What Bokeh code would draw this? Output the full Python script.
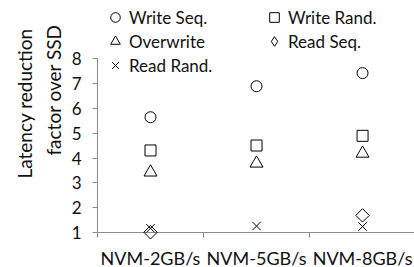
import math
from bokeh.plotting import figure
from bokeh.models import Range1d, FixedTicker, Legend, LegendItem, Title
from bokeh.embed import file_html
from bokeh.resources import INLINE

categories = ["NVM-2GB/s", "NVM-5GB/s", "NVM-8GB/s"]
write_seq = [5.65, 6.90, 7.43]
write_rand = [4.31, 4.51, 4.90]
overwrite = [3.43, 3.79, 4.19]
read_seq = [1.01, float("nan"), 1.69]
read_rand = [1.17, 1.26, 1.24]
y_ticks = [1, 2, 3, 4, 5, 6, 7, 8]
y_title_1 = "Latency reduction"
y_title_2 = "factor over SSD"

FONT = "Lato"
AX = "#8c8c8c"
TXT = "#111111"
xs = list(range(len(categories)))

p = figure(frame_width=317, frame_height=232, output_backend="svg", toolbar_location=None,
           x_range=Range1d(-0.5, 2.49), y_range=Range1d(1, 10.36),
           min_border_left=97, min_border_right=0, min_border_top=0, min_border_bottom=35)
p.outline_line_color = None
p.xgrid.visible = False
p.ygrid.visible = False
p.background_fill_color = None
p.border_fill_color = None

# y axis
ya = p.yaxis[0]
ya.ticker = FixedTicker(ticks=y_ticks, minor_ticks=[])
ya.bounds = (1, 8)
ya.axis_line_color = AX
ya.major_tick_line_color = AX
ya.major_tick_out = 5
ya.major_tick_in = 0
ya.minor_tick_line_color = None
ya.major_label_standoff = 11
ya.major_label_text_font = FONT
ya.major_label_text_font_size = "17px"
ya.major_label_text_color = TXT

# x axis (ticks between categories)
xa = p.xaxis[0]
xa.ticker = FixedTicker(ticks=xs, minor_ticks=[-0.5, 0.5, 1.5, 2.5])
xa.major_label_overrides = {i: c for i, c in zip(xs, categories)}
xa.axis_line_color = AX
xa.major_tick_line_color = None
xa.major_tick_in = 0
xa.major_tick_out = 0
xa.minor_tick_line_color = AX
xa.minor_tick_in = 0
xa.minor_tick_out = 5
xa.major_label_standoff = 9
xa.major_label_text_font = FONT
xa.major_label_text_font_size = "18px"
xa.major_label_text_color = TXT

# two-line y-axis title
t2 = Title(text=y_title_2, align="left", offset=77, text_font=FONT,
           text_font_size="19px", text_font_style="normal", text_color=TXT, standoff=7)
t1 = Title(text=y_title_1, align="left", offset=54, text_font=FONT,
           text_font_size="19px", text_font_style="normal", text_color=TXT, standoff=1)
p.add_layout(t2, "left")
p.add_layout(t1, "left")

kw = dict(line_color="black", fill_color=None, line_width=1, level="overlay")
r_ws = p.scatter(xs, write_seq, marker="circle", size=11, **kw)
r_wr = p.scatter(xs, write_rand, marker="square", size=11, **kw)
r_ow = p.scatter(xs, overwrite, marker="triangle", size=13, **kw)
r_rs = p.scatter(xs, read_seq, marker="square", size=9.5, angle=math.pi / 4, **kw)
r_rr = p.scatter(xs, read_rand, marker="x", size=12, line_color="black", line_width=1,
                 level="overlay")
# legend swatch for the diamond series (legend ignores marker angle)
r_rs_key = p.scatter(xs, read_seq, marker="diamond", size=14, visible=False, **kw)

def mk_legend(items, loc):
    return Legend(items=items, location=loc, orientation="vertical",
                  padding=0, margin=0, spacing=0, border_line_color=None,
                  background_fill_alpha=0, glyph_width=24, glyph_height=24,
                  label_standoff=2, label_text_font=FONT, label_text_font_size="17px",
                  label_text_color=TXT, label_height=24,
                  inactive_fill_alpha=0, click_policy="none")

leg1 = mk_legend([LegendItem(label="Write Seq.", renderers=[r_ws]),
                  LegendItem(label="Overwrite", renderers=[r_ow]),
                  LegendItem(label="Read Rand.", renderers=[r_rr])], (6, 155))
leg2 = mk_legend([LegendItem(label="Write Rand.", renderers=[r_wr]),
                  LegendItem(label="Read Seq.", renderers=[r_rs_key])], (165, 179))
p.add_layout(leg1)
p.add_layout(leg2)

open("out.html", "w").write(file_html(p, INLINE))
